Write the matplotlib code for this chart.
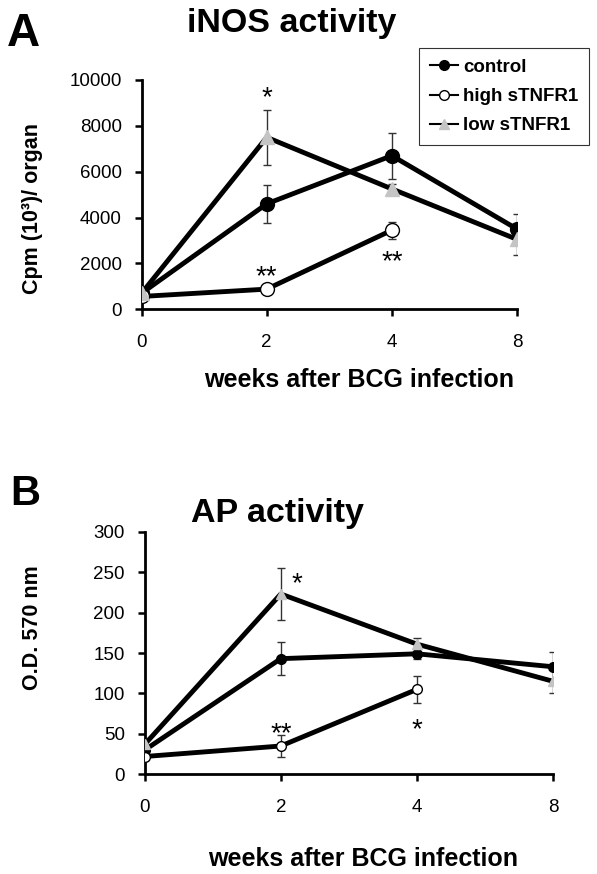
import numpy as np
import matplotlib.pyplot as plt

plt.rcParams['font.family'] = ['Liberation Sans', 'DejaVu Sans']

weeks = ['0', '2', '4', '8']

# panel A: iNOS activity, Cpm (10^3)/organ
inos_control = [700, 4600, 6700, 3500]
inos_control_err = [100, 820, 1000, 650]
inos_high = [560, 880, 3450]
inos_high_err = [100, 180, 370]
inos_low = [700, 7500, 5250, 3050]
inos_low_err = [100, 1200, 200, 680]
inos_stars = [(1, 9600, '*'), (1, 1790, '**'), (2, 2440, '**')]

# panel B: AP activity, O.D. 570 nm
ap_control = [30, 143, 149, 133]
ap_control_err = [5, 20, 7, 18]
ap_high = [22, 35, 105]
ap_high_err = [3, 13, 17]
ap_low = [37, 223, 161, 115]
ap_low_err = [5, 32, 8, 15]
ap_stars = [(1.12, 246, '*'), (1, 61, '**'), (2, 66, '*')]

W, H = 597, 874
fig = plt.figure(figsize=(W / 100, H / 100), dpi=100)
GRAY = '#c4c4c4'


def px_axes(left, right, top, bottom):
    return fig.add_axes([left / W, 1 - bottom / H, (right - left) / W, (bottom - top) / H])


def ftext(x, y, s, **kw):
    # place text using pixel coordinates measured from the top-left corner
    return fig.text(x / W, 1 - y / H, s, **kw)


def draw_series(ax, y, err, mfc, marker, ms, label, lw=3.5):
    x = np.arange(len(y))
    ax.errorbar(x, y, yerr=err, fmt='none', ecolor='#333333', elinewidth=1.0,
                capsize=3, capthick=1.0, zorder=2)
    ax.plot(x, y, color='black', lw=lw, marker=marker, ms=ms, mfc=mfc,
            mec=GRAY if mfc == GRAY else 'black', mew=1.0, label=label, zorder=3)


def style_axes(ax, ymax, ystep):
    ax.set_xlim(0, 3)
    ax.set_ylim(0, ymax)
    ax.set_xticks(np.arange(4))
    ax.set_xticklabels(weeks)
    ax.set_yticks(np.arange(0, ymax + 1, ystep))
    for s in ['top', 'right']:
        ax.spines[s].set_visible(False)
    for s in ['left', 'bottom']:
        ax.spines[s].set_linewidth(2.0)
    ax.tick_params(direction='out', length=4.8, width=1.8, labelsize=13.5)
    ax.tick_params(axis='y', pad=9.5)
    ax.tick_params(axis='x', pad=13)
    ax.patch.set_alpha(0)


def add_stars(ax, stars, fs=20):
    # star positions are the centres of the asterisk glyphs
    for x, y, t in stars:
        ax.annotate(t, (x, y), xytext=(0, -0.57 * fs), textcoords='offset points',
                    ha='center', va='baseline', fontsize=fs)


# ---- panel A ----
axA = px_axes(141.6, 517, 80, 309.3)
draw_series(axA, inos_control, inos_control_err, 'black', 'o', 10, 'control')
draw_series(axA, inos_high, inos_high_err, 'white', 'o', 10, 'high sTNFR1')
draw_series(axA, inos_low, inos_low_err, GRAY, '^', 10, 'low sTNFR1')
style_axes(axA, 10000, 2000)
add_stars(axA, inos_stars)

ftext(7, 46, 'A', fontsize=33, fontweight='bold', ha='left', va='baseline')
ftext(292, 32, 'iNOS activity', fontsize=24.5, fontweight='bold', ha='center', va='baseline')
ftext(32.5, 208, 'Cpm (10³)/ organ', fontsize=15.5, fontweight='bold', rotation=90,
      ha='center', va='center')
ftext(359.5, 387, 'weeks after BCG infection', fontsize=18, fontweight='bold',
      ha='center', va='baseline')

leg = fig.legend(loc='upper left', bbox_to_anchor=(419 / W, 1 - 48 / H), frameon=True,
                 fancybox=False, handlelength=1.5, handletextpad=0.3, borderpad=0.57,
                 labelspacing=0.65, borderaxespad=0, prop={'weight': 'bold', 'size': 13.5})
leg.get_frame().set_edgecolor('black')
leg.get_frame().set_linewidth(0.8)
for h in leg.get_lines():
    h.set_linewidth(1.5)
    h.set_markersize(7)

# ---- panel B ----
axB = px_axes(144.7, 553, 531.7, 774.3)
draw_series(axB, ap_control, ap_control_err, 'black', 'o', 7, 'control')
draw_series(axB, ap_high, ap_high_err, 'white', 'o', 7, 'high sTNFR1')
draw_series(axB, ap_low, ap_low_err, GRAY, '^', 7, 'low sTNFR1')
style_axes(axB, 300, 50)
add_stars(axB, ap_stars)

ftext(10, 505, 'B', fontsize=30, fontweight='bold', ha='left', va='baseline')
ftext(277, 522, 'AP activity', fontsize=24.5, fontweight='bold', ha='center', va='baseline')
ftext(32.5, 628, 'O.D. 570 nm', fontsize=15.5, fontweight='bold', rotation=90,
      ha='center', va='center')
ftext(363, 866, 'weeks after BCG infection', fontsize=18, fontweight='bold',
      ha='center', va='baseline')

fig.savefig('out.png', dpi=100)
